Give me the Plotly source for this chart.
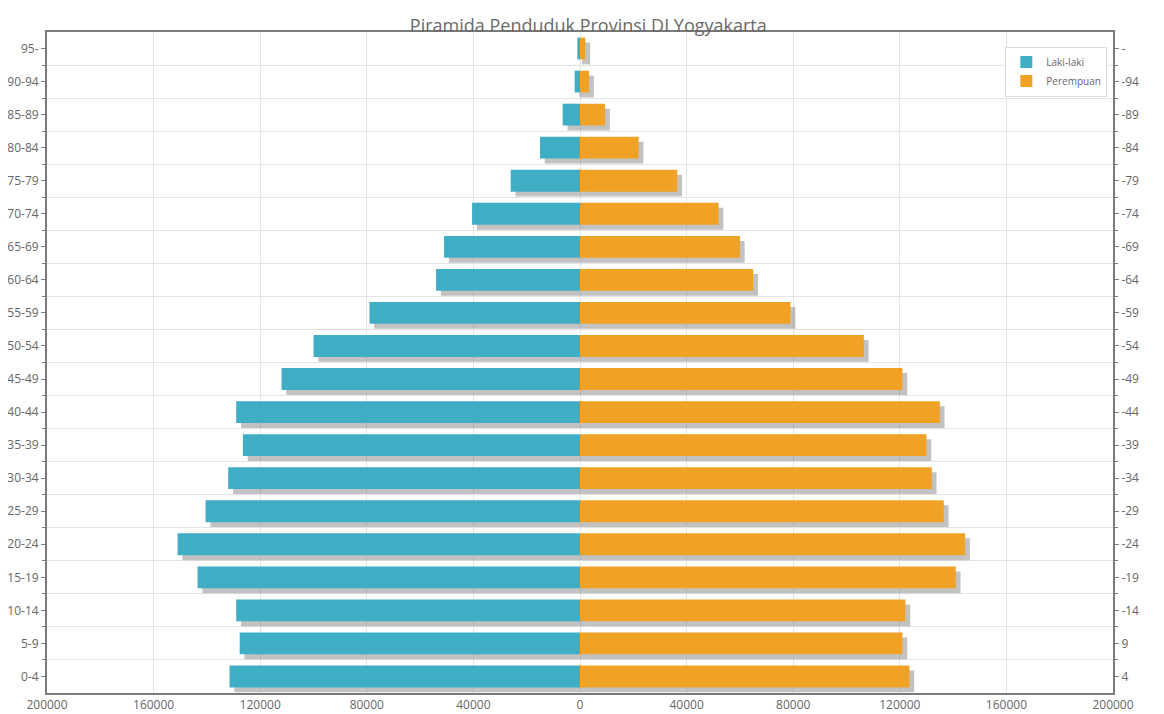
import plotly.graph_objects as go

age_groups = ["0-4", "5-9", "10-14", "15-19", "20-24", "25-29", "30-34", "35-39",
              "40-44", "45-49", "50-54", "55-59", "60-64", "65-69", "70-74",
              "75-79", "80-84", "85-89", "90-94", "95-"]
right_labels = ["4", "9", "-14", "-19", "-24", "-29", "-34", "-39", "-44", "-49",
                "-54", "-59", "-64", "-69", "-74", "-79", "-84", "-89", "-94", "-"]
laki_laki = [131500, 127700, 129000, 143500, 151000, 140500, 132000, 126500,
             129000, 112000, 100000, 79000, 54000, 51000, 40500, 26000,
             15000, 6500, 2000, 1000]
perempuan = [123600, 121000, 122100, 141000, 144500, 136500, 132000, 130000,
             135000, 121000, 106500, 79000, 65000, 60000, 52000, 36500,
             22000, 9400, 3400, 2000]
x_ticks = [-200000, -160000, -120000, -80000, -40000, 0, 40000, 80000, 120000, 160000, 200000]
x_ticktext = ["200000", "160000", "120000", "80000", "40000", "0",
              "40000", "80000", "120000", "160000", "200000"]

BLUE = "#3fadc4"
ORANGE = "#f0a227"
SHADOW = "rgba(110,110,110,0.42)"
BAR_W = 0.66
SH_X = 1800
SH_Y = 0.15

pos = list(range(len(age_groups)))
neg_laki = [-v for v in laki_laki]

fig = go.Figure()
# shadows
fig.add_trace(go.Bar(y=pos, x=neg_laki, base=SH_X, orientation="h", width=BAR_W,
                     offset=-BAR_W / 2 - SH_Y, marker=dict(color=SHADOW, line_width=0),
                     showlegend=False, hoverinfo="skip"))
fig.add_trace(go.Bar(y=pos, x=perempuan, base=SH_X, orientation="h", width=BAR_W,
                     offset=-BAR_W / 2 - SH_Y, marker=dict(color=SHADOW, line_width=0),
                     showlegend=False, hoverinfo="skip"))
# bars
fig.add_trace(go.Bar(y=pos, x=neg_laki, orientation="h", width=BAR_W, name="Laki-laki",
                     marker=dict(color=BLUE, line_width=0),
                     customdata=laki_laki, hovertemplate="%{customdata}<extra>Laki-laki</extra>"))
fig.add_trace(go.Bar(y=pos, x=perempuan, orientation="h", width=BAR_W, name="Perempuan",
                     marker=dict(color=ORANGE, line_width=0), yaxis="y2"))

FONT = "Open Sans"
AX = "#7a7a7a"
GRID = "#e3e3e3"

fig.update_layout(
    width=1156, height=706,
    margin=dict(l=39, r=51, t=24, b=21, autoexpand=False),
    paper_bgcolor="white", plot_bgcolor="white",
    barmode="overlay",
    font=dict(family=FONT, size=12, color="#555555"),
    title=dict(text="Piramida Penduduk Provinsi DI Yogyakarta",
               x=0.502, xanchor="center", y=0.966, yanchor="bottom", yref="container",
               automargin=False,
               font=dict(family=FONT, size=18, color="#6a6a6a")),
    legend=dict(x=0.899, y=0.978, xanchor="left", yanchor="top",
                bgcolor="white", bordercolor="#dddddd", borderwidth=1,
                font=dict(size=10, color="#666666"), itemwidth=30,
                traceorder="normal", tracegroupgap=2),
    xaxis=dict(range=[-200000, 200000], tickvals=x_ticks, ticktext=x_ticktext,
               showgrid=True, gridcolor=GRID, gridwidth=1, zeroline=False,
               showline=True, linecolor=AX, linewidth=2, mirror=True,
               ticks="", ticklabelstandoff=0, automargin=False,
               tickfont=dict(size=12, color="#666666")),
    yaxis=dict(range=[-0.5, 19.5], tickvals=pos, ticktext=age_groups,
               showgrid=False, zeroline=False, automargin=False,
               showline=True, linecolor=AX, linewidth=2,
               ticks="outside", ticklen=4, tickcolor=AX,
               minor=dict(tickvals=[p + 0.5 for p in pos[:-1]], showgrid=True,
                          gridcolor=GRID, gridwidth=1, ticks="outside", ticklen=3, tickcolor=AX),
               tickfont=dict(size=12, color="#666666"), ticklabelstandoff=0),
    yaxis2=dict(range=[-0.5, 19.5], tickvals=pos, ticktext=right_labels,
                overlaying="y", side="right", anchor="x", automargin=False,
                showgrid=False, zeroline=False,
                showline=True, linecolor=AX, linewidth=2,
                ticks="outside", ticklen=4, tickcolor=AX,
                minor=dict(tickvals=[p + 0.5 for p in pos[:-1]], ticks="outside",
                           ticklen=3, tickcolor=AX),
                tickfont=dict(size=12, color="#666666"), ticklabelstandoff=0),
)

fig.write_html("out.html")
